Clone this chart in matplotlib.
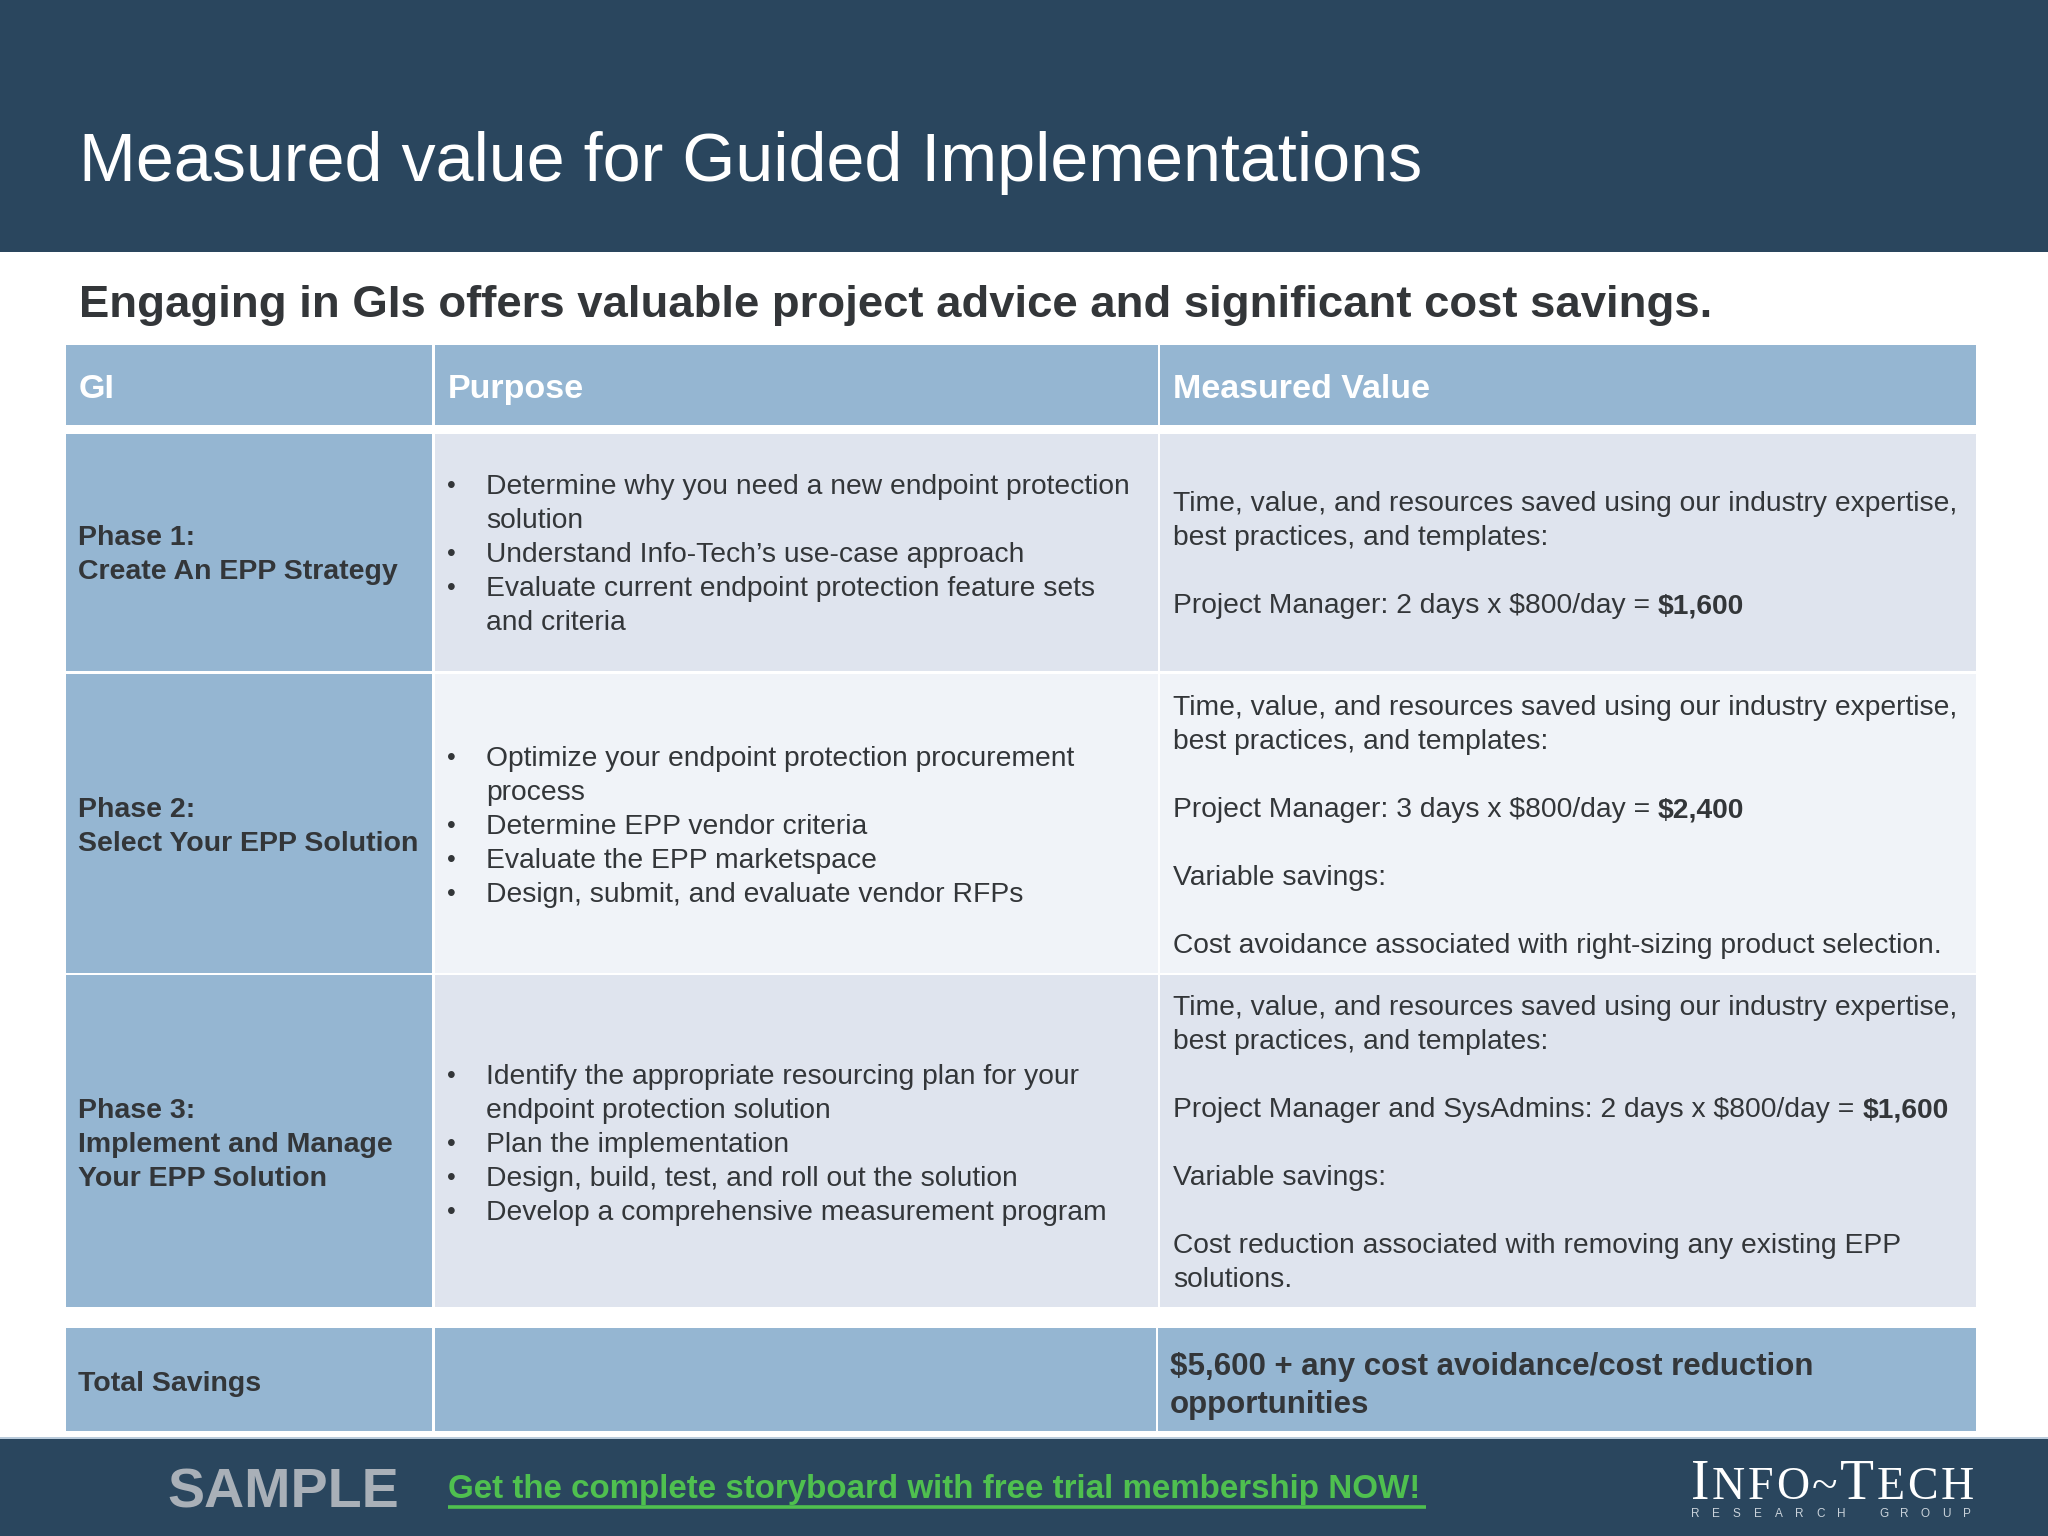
import matplotlib
matplotlib.use("Agg")
import matplotlib.pyplot as plt
from matplotlib.patches import Rectangle

plt.rcParams['font.family'] = ['Liberation Sans', 'DejaVu Sans']

NAVY = '#2a465e'
BLUE = '#95b6d2'
ROW_DARK = '#dfe4ee'
ROW_LIGHT = '#f0f3f8'
INK = '#333639'
GREEN = '#4fc04f'

title = "Measured value for Guided Implementations"
subtitle = "Engaging in GIs offers valuable project advice and significant cost savings."
headers = ["GI", "Purpose", "Measured Value"]
phases = [
    ["Phase 1:", "Create An EPP Strategy"],
    ["Phase 2:", "Select Your EPP Solution"],
    ["Phase 3:", "Implement and Manage", "Your EPP Solution"],
]
# (is_bullet, line)
purposes = [
    [(1, "Determine why you need a new endpoint protection"), (0, "solution"),
     (1, "Understand Info-Tech\u2019s use-case approach"),
     (1, "Evaluate current endpoint protection feature sets"), (0, "and criteria")],
    [(1, "Optimize your endpoint protection procurement"), (0, "process"),
     (1, "Determine EPP vendor criteria"), (1, "Evaluate the EPP marketspace"),
     (1, "Design, submit, and evaluate vendor RFPs")],
    [(1, "Identify the appropriate resourcing plan for your"), (0, "endpoint protection solution"),
     (1, "Plan the implementation"), (1, "Design, build, test, and roll out the solution"),
     (1, "Develop a comprehensive measurement program")],
]
intro = ["Time, value, and resources saved using our industry expertise,",
         "best practices, and templates:", ""]
values = [
    intro + [("Project Manager: 2 days x $800/day =", "$1,600")],
    intro + [("Project Manager: 3 days x $800/day =", "$2,400"), "", "Variable savings:", "",
             "Cost avoidance associated with right-sizing product selection."],
    intro + [("Project Manager and SysAdmins: 2 days x $800/day =", "$1,600"), "", "Variable savings:", "",
             "Cost reduction associated with removing any existing EPP", "solutions."],
]
total_label = "Total Savings"
total_value = ["$5,600 + any cost avoidance/cost reduction", "opportunities"]
sample_text = "SAMPLE"
link_text = "Get the complete storyboard with free trial membership NOW!"
logo_top = [("I", 40), ("N", 33), ("F", 33), ("O", 33), ("~", 34), ("T", 40), ("E", 33), ("C", 33), ("H", 33)]
logo_sub = "RESEARCH GROUP"

# layout, in pixels of the 2048x1536 picture
col_edges = [(66, 432), (435, 1158), (1160, 1976)]
row_edges = [(434, 671), (674, 973), (975, 1307)]
row_fills = [ROW_DARK, ROW_LIGHT, ROW_DARK]
phase_y = [545, 817, 1118]
purpose_y = [494, 766, 1084]
value_y = [511, 715, 1015]
PITCH = 34
BODY = 20.37


def box(ax, x0, y0, x1, y1, color):
    ax.add_patch(Rectangle((x0, y0), x1 - x0, y1 - y0, facecolor=color, edgecolor='none'))


def main():
    fig = plt.figure(figsize=(20.48, 15.36), dpi=100)
    ax = fig.add_axes([0, 0, 1, 1])
    ax.set_xlim(0, 2048)
    ax.set_ylim(1536, 0)
    ax.axis('off')

    # bands
    box(ax, 0, 0, 2048, 252, NAVY)
    box(ax, 0, 1439, 2048, 1536, NAVY)
    box(ax, 0, 1437, 2048, 1439, '#b9cbdb')
    ax.text(79, 181, title, color='white', fontsize=49.15, va='baseline')
    ax.text(79, 317, subtitle, color=INK, fontsize=32.75, fontweight='bold', va='baseline')

    # header row
    for (x0, x1), name in zip(col_edges, headers):
        box(ax, x0, 345, x1, 425, BLUE)
        ax.text(x0 + 13, 398, name, color='white', fontsize=24.5, fontweight='bold', va='baseline')

    # body rows
    renderer = fig.canvas.get_renderer()
    for i, (y0, y1) in enumerate(row_edges):
        box(ax, col_edges[0][0], y0, col_edges[0][1], y1, BLUE)
        box(ax, col_edges[1][0], y0, col_edges[1][1], y1, row_fills[i])
        box(ax, col_edges[2][0], y0, col_edges[2][1], y1, row_fills[i])
        for k, line in enumerate(phases[i]):
            ax.text(78, phase_y[i] + k * PITCH, line, color=INK, fontsize=20.5,
                    fontweight='bold', va='baseline')
        for k, (bullet, line) in enumerate(purposes[i]):
            y = purpose_y[i] + k * PITCH
            if bullet:
                ax.text(447, y - 1, "\u2022", color=INK, fontsize=18, va='baseline')
            ax.text(486, y, line, color=INK, fontsize=BODY, va='baseline')
        for k, line in enumerate(values[i]):
            y = value_y[i] + k * PITCH
            if isinstance(line, tuple):
                t = ax.text(1173, y, line[0], color=INK, fontsize=BODY, va='baseline')
                end = t.get_window_extent(renderer).x1
                ax.text(end + 8, y, line[1], color=INK, fontsize=BODY, fontweight='bold', va='baseline')
            elif line:
                ax.text(1173, y, line, color=INK, fontsize=BODY, va='baseline')

    # total row
    box(ax, 66, 1328, 432, 1431, BLUE)
    box(ax, 435, 1328, 1156, 1431, BLUE)
    box(ax, 1158, 1328, 1976, 1431, BLUE)
    ax.text(78, 1391, total_label, color=INK, fontsize=20.5, fontweight='bold', va='baseline')
    for k, line in enumerate(total_value):
        ax.text(1170, 1375 + k * 38, line, color=INK, fontsize=22.5, fontweight='bold', va='baseline')

    # footer
    ax.text(167, 1508, sample_text, color='#a9b0b8', fontsize=40.1, fontweight='bold', va='baseline')
    ax.text(448, 1498, link_text, color=GREEN, fontsize=23.9, fontweight='bold', va='baseline')
    ax.plot([448, 1426], [1507, 1507], color=GREEN, lw=2.6, solid_capstyle='butt')

    # logo
    x = 1691
    for ch, size in logo_top:
        t = ax.text(x, 1499, ch, color='white', fontsize=size, family='Liberation Serif', va='baseline')
        x = t.get_window_extent(renderer).x1 + 2.6
    for k, ch in enumerate(logo_sub):
        ax.text(1691 + k * 20.9, 1517, ch, color='#c9d2da', fontsize=8.5, va='baseline')

    fig.savefig("out.png", dpi=100)


if __name__ == "__main__":
    main()
